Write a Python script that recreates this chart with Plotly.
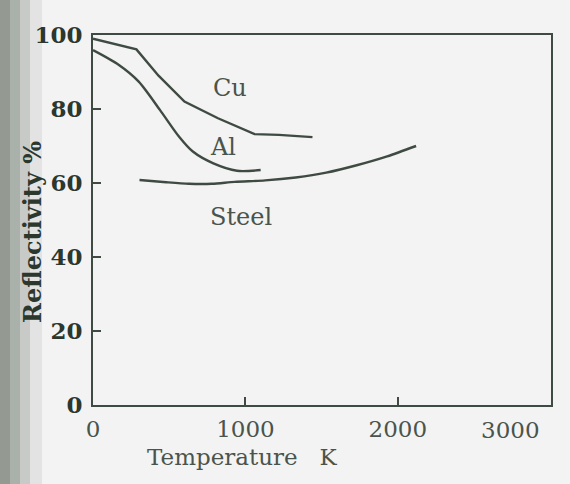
import plotly.graph_objects as go

# Data (Temperature K, Reflectivity %)
cu_T = [0, 285, 430, 600, 820, 1060, 1220, 1440]
cu_R = [99, 96.1, 89, 82, 77.5, 73.2, 73.0, 72.4]

al_T = [0, 170, 300, 440, 565, 655, 790, 945, 1100]
al_R = [95.9, 91.9, 87.4, 79.7, 72.5, 68.5, 65.3, 63.3, 63.5]

steel_T = [305, 480, 630, 780, 930, 1130, 1330, 1530, 1730, 1930, 2120]
steel_R = [60.8, 60.2, 59.8, 59.8, 60.3, 60.7, 61.5, 62.8, 64.8, 67.2, 70.0]

x_ticks = [0, 1000, 2000, 3000]
x_tick_text = ["0", "1000", "2000", "3000"]
y_ticks = [0, 20, 40, 60, 80, 100]

labels = ["Cu", "Al", "Steel"]
label_T = [900, 855, 970]
label_R = [85.7, 69.7, 50.8]

ink = "#3f4b42"
txt = "#4a544c"
dark = "#2c372e"
bg = "#f3f3f3"
font_fam = "DejaVu Serif"

# plot-area pixel geometry (for placing paper-referenced extras)
L, R, T, B = 93, 551, 35, 405
W, H = R - L, B - T


def px_x(p):
    return (p - L) / W


def px_y(p):
    return (B - p) / H


fig = go.Figure()
fig.add_trace(go.Scatter(x=cu_T, y=cu_R, mode="lines", name="Cu",
                         line=dict(color=ink, width=2.4)))
fig.add_trace(go.Scatter(x=al_T, y=al_R, mode="lines", name="Al",
                         line=dict(color=ink, width=2.4, shape="spline", smoothing=0.8)))
fig.add_trace(go.Scatter(x=steel_T, y=steel_R, mode="lines", name="Steel",
                         line=dict(color=ink, width=2.4, shape="spline", smoothing=0.8)))

for t, x, y in zip(labels, label_T, label_R):
    fig.add_annotation(x=x, y=y, text=t, showarrow=False, xref="x", yref="y",
                       font=dict(family=font_fam, size=24, color=txt))

# last x tick label sits right-aligned under its tick, as in the scan
fig.add_annotation(x=x_ticks[-1], y=px_y(430), xref="x", yref="paper",
                   xanchor="right", yanchor="middle", xshift=-8,
                   text=x_tick_text[-1], showarrow=False,
                   font=dict(family=font_fam, size=23, color=txt))

# Axis titles placed as in the scan
fig.add_annotation(x=px_x(242), y=px_y(457), xref="paper", yref="paper",
                   xanchor="center", yanchor="middle",
                   text="Temperature&nbsp;&nbsp;&nbsp;K", showarrow=False,
                   font=dict(family=font_fam, size=23, color=txt))
fig.add_annotation(x=px_x(32), y=px_y(232), xref="paper", yref="paper",
                   xanchor="center", yanchor="middle", textangle=-90,
                   text="<b>Reflectivity %</b>", showarrow=False,
                   font=dict(family=font_fam, size=24, color=dark))

# scanner shadow along the left edge
for x1, op in [(10, 0.5), (20, 0.38), (30, 0.26), (42, 0.14)]:
    fig.add_shape(type="rect", xref="paper", yref="paper", x0=px_x(0), x1=px_x(x1),
                  y0=px_y(484), y1=px_y(0),
                  fillcolor="#7d857c", opacity=op, line_width=0, layer="below")

fig.update_layout(
    width=570, height=484,
    margin=dict(l=L, r=570 - R, t=T, b=484 - B),
    paper_bgcolor=bg, plot_bgcolor=bg,
    showlegend=False,
    font=dict(family=font_fam, color=ink),
)
fig.update_xaxes(range=[0, 3005], tickvals=x_ticks,
                 ticktext=x_tick_text[:-1] + [""],
                 ticks="inside", ticklen=8, tickwidth=2,
                 tickcolor=ink, showline=True, linecolor=ink, linewidth=2, mirror=True,
                 showgrid=False, zeroline=False, ticklabelstandoff=2,
                 tickfont=dict(family=font_fam, size=23, color=txt))
fig.update_yaxes(range=[0, 100], tickvals=y_ticks, ticks="inside", ticklen=8, tickwidth=2,
                 tickcolor=ink, showline=True, linecolor=ink, linewidth=2, mirror=True,
                 showgrid=False, zeroline=False, ticklabelstandoff=4,
                 tickfont=dict(family=font_fam, size=23, color=dark, weight="bold"))

fig.write_html("out.html")
